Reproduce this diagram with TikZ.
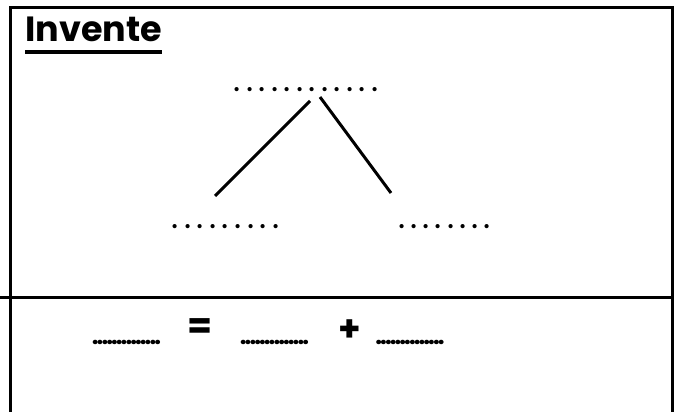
\documentclass[tikz,border=0pt]{standalone}
\usepackage{fontspec}
\setmainfont{Poppins}
\usetikzlibrary{positioning,calc}
\newcommand{\dotrow}[2]{\foreach \k in {1,...,#1}{\makebox[#2]{.}}}
\tikzset{
frame/.style={line width=3pt},
branch/.style={line width=3pt},
blank/.style={inner sep=0pt,font=\fontsize{34}{34}\selectfont},
smallblank/.style={inner sep=0pt,font=\bfseries\fontsize{24}{24}\selectfont},
sign/.style={inner sep=0pt,font=\bfseries\fontsize{36}{36}\selectfont},
}

\begin{document}
\begin{tikzpicture}[x=1pt,y=-1pt]
\useasboundingbox (0,0) rectangle (680,412);
% frame
\draw[frame] (10,412) -- (10,8) -- (672,8) -- (672,412);
\draw[frame] (0,297) -- (672,297);

% title
\node[anchor=base west,inner sep=0pt,font=\bfseries\fontsize{35}{35}\selectfont] (title) at (25,42) {Invente};
\draw[line width=4pt] ([yshift=-10pt]title.base west) -- ([yshift=-10pt]title.base east);

% number tree
\node[blank] (whole) at (306,90) {\dotrow{12}{12.5pt}};
\node[blank] (partA) at (225.5,227) {\dotrow{9}{12.6pt}};
\node[blank] (partB) at (444.5,227) {\dotrow{8}{12.2pt}};
\draw[branch] ($(whole)+(4,11)$) -- ($(partA)+(-10.5,-31)$);
\draw[branch] ($(whole)+(14,7)$) -- ($(partB)+(-53.5,-34)$);

% sentence
\node[smallblank] (total) at (126.5,342) {\dotrow{14}{4.8pt}};
\node[sign] (eq) at (200.5,329) {=};
\node[smallblank] (termA) at (274.5,342) {\dotrow{14}{4.8pt}};
\node[sign] (plus) at (349.5,331) {+};
\node[smallblank] (termB) at (410,342) {\dotrow{14}{4.8pt}};
\end{tikzpicture}
\end{document}
